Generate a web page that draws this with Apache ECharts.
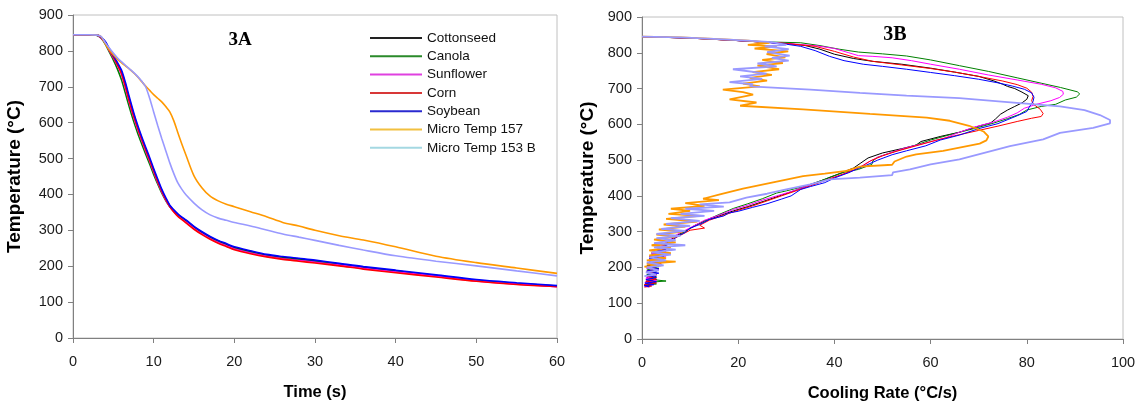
<!DOCTYPE html>
<html>
<head>
<meta charset="utf-8">
<script src="https://cdn.jsdelivr.net/npm/echarts@6/dist/echarts.min.js"></script>
<style>
html,body{margin:0;padding:0;background:#fff;}
#chart{width:1140px;height:407px;}
</style>
</head>
<body>
<div id="chart"></div>
<script>
// ---------- Data: Fig 3A (temperature vs time) ----------
const seriesNames = ['Cottonseed','Canola','Sunflower','Corn','Soybean','Micro Temp 157','Micro Temp 153 B'];
const timeA = [0,1,2,3,3.5,4,4.5,5,5.5,6,6.5,7,7.5,8,8.5,9,9.5,10,10.5,11,11.5,12,12.5,13,13.5,14,15,16,17,18,19,20,22,24,26,28,30,33,36,40,45,50,55,60];
const cottonseedA = [845,845,845,844,837,824,803,784,764,742,706,664,624,589,557,527,498,467,438,411,388,368,355,344,335,327,309,294,281,270,261,252,241,231,225,220,215,206,197,187,174,161,152,145];
const canolaA     = [845,845,845,843,835,819,797,775,750,720,682,642,605,572,542,513,485,456,429,404,383,366,353,342,333,325,307,292,279,268,259,250,239,229,223,218,213,204,195,185,173,160,151,144];
const sunflowerA  = [845,845,845,844,836,822,801,781,760,735,696,655,617,583,552,522,493,463,434,408,385,366,352,340,331,323,305,290,277,266,257,248,237,228,221,216,211,203,194,184,172,159,150,143];
const cornA       = [845,845,845,844,837,823,802,783,762,738,700,658,620,586,555,525,496,466,436,410,386,366,351,339,330,321,303,288,275,264,255,246,235,226,219,214,209,201,192,182,170,158,149,143];
const soybeanA    = [845,845,845,844,838,826,806,787,768,747,712,670,630,594,562,532,503,472,443,415,391,370,357,346,337,329,311,296,283,272,263,254,243,233,227,222,217,208,199,189,176,163,154,146];
const mt157A      = [845,845,845,844,839,820,803,789,777,767,758,749,739,728,715,702,690,678,668,658,645,630,605,572,540,510,452,418,395,382,373,366,352,338,322,312,300,285,273,254,228,210,195,180];
const mt153bA     = [845,845,845,844,840,823,808,794,781,770,760,750,740,729,716,700,668,630,592,556,522,488,458,432,414,399,376,357,343,334,328,322,312,301,290,281,272,258,245,229,214,201,187,173];

// ---------- Data: Fig 3B ([cooling rate °C/s, temperature °C]) ----------
const cottonseedB = [[0,845],[10,841],[20,834],[25,830],[30,826],[34,820],[37,810],[40,796],[44,784],[48,776],[54,768],[60,757],[65,746],[70,734],[73,722],[75,712],[76,706],[77.5,700],[79,690],[80.3,680],[80,670],[79,660],[77.5,650],[76,640],[74.5,628],[73.5,615],[72.5,604],[70,595],[66,578],[62,566],[58,552],[57,542],[54,532],[50,520],[47,506],[45.5,492],[44,478],[41,462],[38,446],[35,432],[32,416],[29,402],[26,388],[22,370],[19,358],[16,344],[13,330],[11,316],[9,302],[7,288],[5.5,272],[4,258],[5,250],[2.5,244],[4,238],[1.5,230],[4,224],[1.5,218],[3.5,210],[1,204],[3.5,196],[1,188],[3,180],[1,172],[3,166],[0.8,160],[2.5,154],[0.5,150],[1.5,146]];
const canolaB = [[0,845],[10,841],[20,834],[27,830],[33,828],[37,820],[41,810],[45,802],[50,797],[55,791],[60,780],[66,764],[72,748],[78,730],[83,715],[87,703],[90.5,691],[91,685],[90.3,676],[88,668],[86,656],[83,650],[80,640],[78.5,628],[76,616],[73,603],[69,588],[64,571],[60,556],[56,538],[52,522],[49,508],[48,498],[47.8,488],[45,474],[42,466],[39,452],[36,436],[33,424],[30,414],[28,408],[25,392],[22,378],[19,365],[16,348],[14,336],[11,318],[9,300],[7,285],[6,272],[4.5,262],[5,255],[3,250],[4.5,242],[2,238],[4.5,230],[1.5,224],[4,216],[1.5,210],[3.5,202],[1,196],[3,188],[1,180],[3,174],[1,168],[5,162],[1,158],[3,154],[0.5,150],[1.5,147]];
const sunflowerB = [[0,845],[10,841],[20,834],[30,826],[36,820],[40,812],[43,800],[45,792],[48,790],[52,786],[56,778],[60,768],[66,754],[72,738],[78,724],[83,712],[86,702],[87.5,692],[87.6,684],[86.8,675],[85,666],[82,656],[79.5,645],[78,632],[76,620],[73,606],[69,592],[66,578],[63,562],[59,548],[55,535],[52,522],[49,508],[47,494],[45,478],[43,466],[40,452],[37,438],[34,426],[31,412],[28,400],[25,388],[22,374],[19,362],[16,346],[13,332],[11,318],[9,304],[7,290],[5.5,274],[4,262],[5.5,256],[3,250],[5,244],[2,238],[5,232],[1.5,226],[4.5,220],[1.5,212],[4,206],[1,198],[3.5,192],[1,186],[3,178],[0.8,170],[3,164],[0.6,158],[2.5,152],[0.5,148],[1.5,145]];
const cornB = [[0,845],[10,841],[20,834],[30,826],[36,818],[40,804],[44,788],[48,776],[54,766],[60,756],[65,746],[70,734],[75,721],[78,711],[80,701],[81,690],[81.3,678],[81,666],[81.5,655],[82.8,642],[83.4,630],[83,622],[81,617],[78,608],[74,595],[70,583],[65,568],[61,555],[57,540],[53,525],[50,512],[47.5,498],[46,485],[44,472],[41,457],[38,443],[35,428],[32,414],[29,400],[26,386],[23,372],[20,360],[17,346],[14,332],[12,318],[13,310],[10,304],[8,290],[6,276],[5,262],[3.5,254],[5,248],[2,242],[4.5,236],[1.5,230],[4.5,224],[1.5,216],[4,210],[1,202],[3.5,196],[1,190],[3,182],[1,176],[3,168],[0.8,162],[3,157],[0.5,152],[2,148],[0.5,145]];
const soybeanB = [[0,845],[5,843],[10,841],[15,838],[20,834],[25,830],[30,824],[33,818],[36,806],[39,790],[42,778],[46,768],[50,762],[55,754],[60,745],[65,736],[70,726],[74,716],[77,707],[79.5,698],[81,688],[81.5,676],[81.3,664],[80.5,648],[80,636],[78,624],[74,602],[70,588],[66,570],[62,556],[59,540],[55,526],[52,515],[49,500],[46.5,485],[45,477],[43,465],[40,450],[38,437],[35,426],[33,418],[31,400],[29,391],[26,378],[23,368],[20,357],[18,352],[17,344],[14,334],[12,320],[10,310],[9,298],[7,284],[6,268],[4.5,258],[5,250],[3,244],[4,238],[2,234],[4.5,230],[1.5,226],[4,220],[1.5,214],[4,208],[1.2,202],[3.5,196],[1,190],[3.5,184],[1,178],[3,172],[0.8,166],[3,160],[0.6,156],[2.5,152],[0.5,149],[1.5,146]];
const mt157B = [[0,845],[8,843],[16,838],[22,834],[26.5,828],[22,822],[28,818],[23.4,812],[30.4,804],[25.9,796],[29.8,787],[25,780],[29.3,771],[24,764],[28.5,754],[23,746],[27,738],[22.4,730],[26,722],[21,714],[24.5,706],[16.8,697],[21,690],[23.1,683],[18.2,670],[23.8,661],[20.4,652],[33.5,642],[47.4,629],[59.2,619],[64,610],[68,596],[71,580],[72,566],[71.6,555],[70.2,546],[66,535],[62.6,526],[57,516],[55,510],[52.5,496],[52,487],[45.3,482],[42.5,470],[38,462],[33.5,455],[28,440],[21,420],[16.2,404],[12.7,392],[16,388],[9,380],[13,372],[6,364],[10,358],[5.5,350],[12,344],[5,336],[11.5,328],[4.5,320],[9,314],[3.5,306],[8.5,300],[3,292],[7,286],[2.5,278],[7,270],[2,262],[6,256],[1.5,248],[6,240],[1.5,234],[5,226],[1,220],[7,216],[1,210],[4,206],[0.5,202],[2,200]];
const mt153bB = [[0,845],[8,843],[16,838],[22,834],[27,830],[30,822],[25.5,818],[30.5,810],[26,802],[30.7,792],[27,786],[30.5,778],[24,770],[28,762],[18.9,754],[25.9,742],[20.4,734],[25,727],[18.2,718],[23,712],[22.4,706],[35,697],[45.3,688],[55,680],[66,673],[76,662],[86.9,650],[92,640],[95.2,626],[97.3,612],[97.3,603],[93.8,590],[86.9,576],[83.4,558],[76.5,539],[66,502],[60,488],[55.7,474],[52.2,466],[52,458],[45.3,451],[39,446],[35,432],[30,418],[26,406],[21.7,395],[18.2,382],[12,376],[17,370],[9,364],[15,358],[8,350],[13,344],[6,338],[12,330],[5,322],[10,316],[4,308],[9,302],[3,294],[8,288],[3,282],[7,276],[2.5,268],[9,262],[2.5,256],[7,250],[2,242],[6,236],[1.5,228],[5,220],[1,214],[4.5,206],[1,200],[3.5,192],[0.8,186],[3,180],[0.5,176]];

const ticksTemp = [0,100,200,300,400,500,600,700,800,900];

// ---------- Styles ----------
const colors = ['#000000','#008000','#ff00ff','#ff0000','#0000ff','#ff9900','#9999ff'];
const legendColors = ['#222222','#2a8a2a','#e040e0','#d83838','#2a2ad0','#f2c040','#a4d8e2'];
const seriesA = [cottonseedA, canolaA, sunflowerA, cornA, soybeanA, mt157A, mt153bA];
const seriesB = [cottonseedB, canolaB, sunflowerB, cornB, soybeanB, mt157B, mt153bB];

const FONT = 'Liberation Sans, Arial, sans-serif';
const axisLineStyle = {color:'#808080', width:1};

function valueXAxis(gridIndex, max, interval, name, gap){
  return {
    type:'value', gridIndex, min:0, max, interval,
    name, nameLocation:'middle', nameGap:gap,
    nameTextStyle:{fontFamily:FONT, fontWeight:'bold', fontSize:16.5, color:'#000'},
    axisLine:{show:true, lineStyle:axisLineStyle},
    axisTick:{show:true, length:5, lineStyle:axisLineStyle},
    axisLabel:{fontFamily:FONT, fontSize:14.5, color:'#1a1a1a', margin:16},
    splitLine:{show:false}
  };
}
function valueYAxis(gridIndex, gap){
  return {
    type:'value', gridIndex, min:0, max:900, interval:100,
    name:'Temperature (°C)', nameLocation:'middle', nameGap:gap, nameRotate:90,
    nameTextStyle:{fontFamily:FONT, fontWeight:'bold', fontSize:19, color:'#000'},
    axisLine:{show:true, lineStyle:axisLineStyle},
    axisTick:{show:true, length:5, lineStyle:axisLineStyle},
    axisLabel:{fontFamily:FONT, fontSize:14.5, color:'#1a1a1a', margin:10,
      formatter: v => ticksTemp.includes(v) ? String(v) : ''},
    splitLine:{show:false}
  };
}

const series = [];
seriesNames.forEach((n,i)=>{
  series.push({
    name:n, type:'line', xAxisIndex:0, yAxisIndex:0,
    data: timeA.map((t,k)=>[t, seriesA[i][k]]),
    symbol:'none', showSymbol:false, smooth:0.3,
    lineStyle:{color:colors[i], width:1.6}, itemStyle:{color:colors[i]},
    z: 2 + i
  });
});
seriesNames.forEach((n,i)=>{
  series.push({
    name:n, type:'line', xAxisIndex:1, yAxisIndex:1,
    data: seriesB[i],
    symbol:'none', showSymbol:false,
    lineStyle:{color:colors[i], width: i>=5 ? 1.8 : 1}, itemStyle:{color:colors[i]},
    z: 2 + i
  });
});

const chart = echarts.init(document.getElementById('chart'), null, {renderer:'canvas'});
chart.setOption({
  animation:false,
  backgroundColor:'#ffffff',
  grid:[
    {left:73, top:15, width:484, height:323, show:true, borderColor:'#c0c0c0', borderWidth:1, containLabel:false},
    {left:642, top:17, width:481, height:322, show:true, borderColor:'#c0c0c0', borderWidth:1, containLabel:false}
  ],
  xAxis:[ valueXAxis(0, 60, 10, 'Time (s)', 46), valueXAxis(1, 100, 20, 'Cooling Rate (°C/s)', 46) ],
  yAxis:[ valueYAxis(0, 49), valueYAxis(1, 45) ],
  legend:{
    orient:'vertical', left:370, top:31, padding:0, icon:'rect',
    itemWidth:52, itemHeight:2, itemGap:4.3,
    textStyle:{fontFamily:FONT, fontSize:13.5, color:'#111', lineHeight:14},
    data: seriesNames.map((n,i)=>({name:n, itemStyle:{color:legendColors[i]}}))
  },
  graphic:[
    {type:'text', x:240, y:40, style:{text:'3A', font:'bold 19px "Liberation Serif", "Times New Roman", serif', fill:'#000', textAlign:'center', textVerticalAlign:'middle'}},
    {type:'text', x:895, y:35, style:{text:'3B', font:'bold 20px "Liberation Serif", "Times New Roman", serif', fill:'#000', textAlign:'center', textVerticalAlign:'middle'}}
  ],
  series
});
</script>
</body>
</html>
